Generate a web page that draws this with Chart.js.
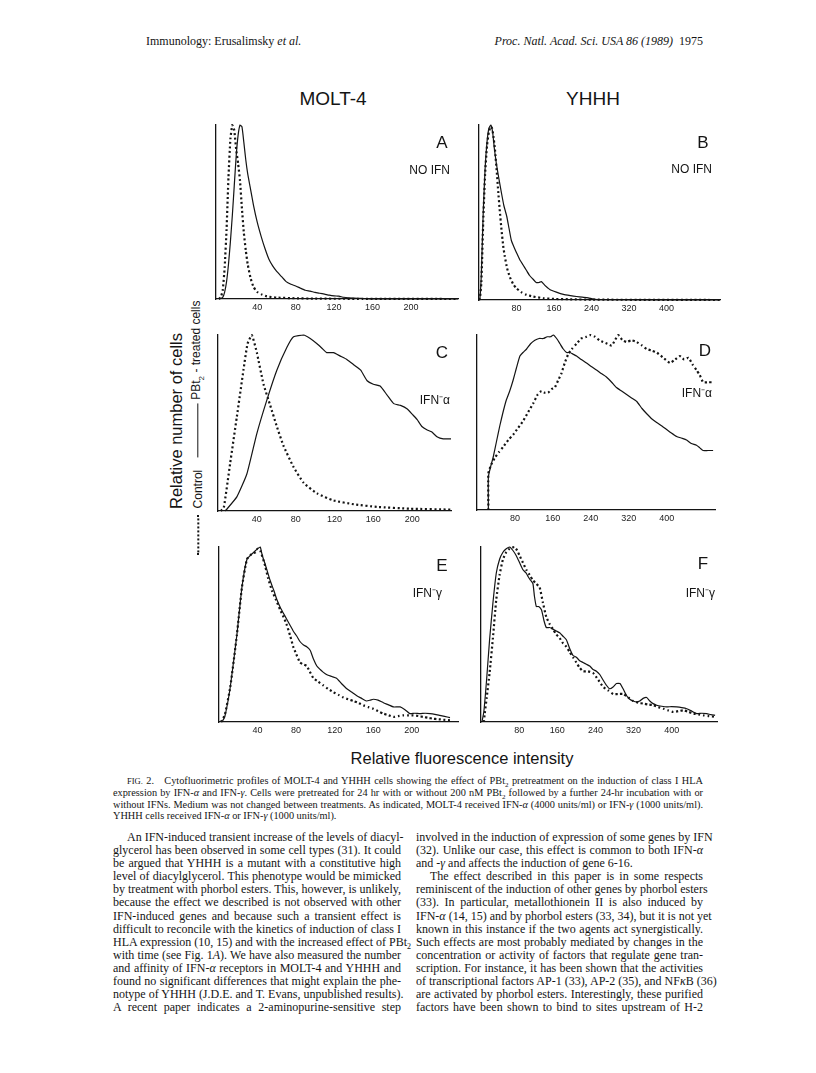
<!DOCTYPE html>
<html>
<head>
<meta charset="utf-8">
<script src="https://cdn.jsdelivr.net/npm/chart.js@4.4.1/dist/chart.umd.min.js"></script>
<style>
    body {
        margin: 0;
        width: 816px;
        height: 1073px;
        background: #fff;
        position: relative;
        overflow: hidden;
        color: #141414;
        font-family: "Liberation Serif", "Times New Roman", serif;
    }
    canvas { position: absolute; }
    .t { position: absolute; white-space: nowrap; line-height: 1; }
    .mid { transform: translate(-50%, -50%); }
    .lft { transform: translateY(-50%); }
    .rgt { transform: translate(-100%, -50%); }
    .sans { font-family: "Liberation Sans", Arial, sans-serif; }
    .title { font-size: 19px; }
    .letter { font-size: 17px; }
    .note { font-size: 12px; }
    .axis-label { font-size: 16.5px; }
    .rot { transform: translate(-50%, -50%) rotate(-90deg); }
    .legend { font-size: 12px; display: flex; align-items: center; }
    .legend .dots { display: inline-block; width: 40px; border-top: 2px dotted #141414; margin-right: 7px; }
    .legend .solid { display: inline-block; width: 54px; border-top: 1px solid #141414; margin: 0 4px 0 12px; }
    .legend sub { font-size: 8px; }
    .header { font-size: 12px; }
    .caption { position: absolute; left: 113px; width: 590px; font-size: 10.3px; line-height: 11.8px; top: 775px; }
    .col { position: absolute; top: 831px; font-size: 12px; line-height: 13.1px; }
    .line { white-space: nowrap; text-align: justify; text-align-last: justify; height: 13.1px; }
    .caption .line { height: 11.8px; }
    .line.end { text-align-last: left; }
    .ind { text-indent: 14px; }
    .sc { font-size: 8.5px; }
</style>
</head>
<body>

<div class="t header lft" style="left:146px; top:41px;">Immunology: Erusalimsky <i>et al.</i></div>
<div class="t header rgt" style="left:673px; top:41px;"><i>Proc. Natl. Acad. Sci. USA 86 (1989)</i></div>
<div class="t header rgt" style="left:703px; top:41px;">1975</div>

<div class="t sans title mid" style="left:333px; top:98px;">MOLT-4</div>
<div class="t sans title mid" style="left:593px; top:98px;">YHHH</div>

<canvas id="cA"></canvas>
<canvas id="cB"></canvas>
<canvas id="cC"></canvas>
<canvas id="cD"></canvas>
<canvas id="cE"></canvas>
<canvas id="cF"></canvas>

<div class="t sans letter mid" style="left:442px; top:142px;">A</div>
<div class="t sans note rgt" style="left:450px; top:170px;">NO IFN</div>
<div class="t sans letter mid" style="left:703px; top:142px;">B</div>
<div class="t sans note rgt" style="left:712px; top:169px;">NO IFN</div>
<div class="t sans letter mid" style="left:442px; top:352px;">C</div>
<div class="t sans note rgt" style="left:450px; top:400px;">IFN⁻α</div>
<div class="t sans letter mid" style="left:705px; top:350px;">D</div>
<div class="t sans note rgt" style="left:712px; top:393px;">IFN⁻α</div>
<div class="t sans letter mid" style="left:442px; top:565px;">E</div>
<div class="t sans note rgt" style="left:442px; top:593px;">IFN⁻γ</div>
<div class="t sans letter mid" style="left:703px; top:563px;">F</div>
<div class="t sans note rgt" style="left:715px; top:593px;">IFN⁻γ</div>

<div class="t sans axis-label rot" style="left:176px; top:421px;">Relative number of cells</div>
<div class="t sans legend rot" style="left:198px; top:428px;">
    <span class="dots"></span><span>Control</span><span class="solid"></span><span>PBt<sub>2</sub> - treated cells</span>
</div>
<div class="t sans axis-label mid" style="left:462px; top:758px;">Relative fluorescence intensity</div>

<div class="caption">
    <div class="line ind"><span class="sc">FIG.</span> 2.&nbsp;&nbsp; Cytofluorimetric profiles of MOLT-4 and YHHH cells showing the effect of PBt<sub style="font-size:7px">2</sub> pretreatment on the induction of class I HLA</div>
    <div class="line">expression by IFN-<i>α</i> and IFN-<i>γ</i>. Cells were pretreated for 24 hr with or without 200 nM PBt<sub style="font-size:7px">2</sub> followed by a further 24-hr incubation with or</div>
    <div class="line">without IFNs. Medium was not changed between treatments. As indicated, MOLT-4 received IFN-<i>α</i> (4000 units/ml) or IFN-<i>γ</i> (1000 units/ml).</div>
    <div class="line end">YHHH cells received IFN-<i>α</i> or IFN-<i>γ</i> (1000 units/ml).</div>
</div>

<div class="col" style="left:113px; width:288px;">
    <div class="line ind">An IFN-induced transient increase of the levels of diacyl-</div>
    <div class="line">glycerol has been observed in some cell types (31). It could</div>
    <div class="line">be argued that YHHH is a mutant with a constitutive high</div>
    <div class="line">level of diacylglycerol. This phenotype would be mimicked</div>
    <div class="line">by treatment with phorbol esters. This, however, is unlikely,</div>
    <div class="line">because the effect we described is not observed with other</div>
    <div class="line">IFN-induced genes and because such a transient effect is</div>
    <div class="line">difficult to reconcile with the kinetics of induction of class I</div>
    <div class="line">HLA expression (10, 15) and with the increased effect of PBt<sub style="font-size:8px">2</sub></div>
    <div class="line">with time (see Fig. 1<i>A</i>). We have also measured the number</div>
    <div class="line">and affinity of IFN-<i>α</i> receptors in MOLT-4 and YHHH and</div>
    <div class="line">found no significant differences that might explain the phe-</div>
    <div class="line">notype of YHHH (J.D.E. and T. Evans, unpublished results).</div>
    <div class="line">A recent paper indicates a 2-aminopurine-sensitive step</div>
</div>

<div class="col" style="left:416px; width:287px;">
    <div class="line">involved in the induction of expression of some genes by IFN</div>
    <div class="line">(32). Unlike our case, this effect is common to both IFN-<i>α</i></div>
    <div class="line end">and -<i>γ</i> and affects the induction of gene 6-16.</div>
    <div class="line ind">The effect described in this paper is in some respects</div>
    <div class="line">reminiscent of the induction of other genes by phorbol esters</div>
    <div class="line">(33). In particular, metallothionein II is also induced by</div>
    <div class="line">IFN-<i>α</i> (14, 15) and by phorbol esters (33, 34), but it is not yet</div>
    <div class="line">known in this instance if the two agents act synergistically.</div>
    <div class="line">Such effects are most probably mediated by changes in the</div>
    <div class="line">concentration or activity of factors that regulate gene tran-</div>
    <div class="line">scription. For instance, it has been shown that the activities</div>
    <div class="line">of transcriptional factors AP-1 (33), AP-2 (35), and NF<i>κ</i>B (36)</div>
    <div class="line">are activated by phorbol esters. Interestingly, these purified</div>
    <div class="line">factors have been shown to bind to sites upstream of H-2</div>
</div>

<script>
// tick labels on the fluorescence axis
const moltTicks = [40, 80, 120, 160, 200];
const yhhhTicks = [80, 160, 240, 320, 400];

// profiles as [fluorescence, relative cell number]
// A: MOLT-4, no IFN
const ctrlA = [[0,0],[2,0.01],[4,0.05],[6,0.18],[8,0.4],[10,0.7],[12,0.92],[14,1.0],[16,0.97],[18,0.86],[20,0.78],[22,0.68],[24,0.52],[26,0.38],[28,0.28],[30,0.2],[33,0.12],[36,0.07],[40,0.04],[45,0.025],[50,0.015],[60,0.008],[80,0.004],[100,0.002],[150,0.001],[249,0]];
const pbtA = [[0,0],[4,0.01],[6,0.04],[8,0.1],[10,0.2],[12,0.33],[14,0.48],[16,0.65],[18,0.82],[20,0.94],[22,1.0],[24,0.99],[26,0.9],[28,0.8],[30,0.72],[33,0.63],[36,0.54],[40,0.44],[44,0.36],[48,0.29],[52,0.23],[56,0.19],[60,0.16],[65,0.13],[70,0.1],[75,0.085],[80,0.075],[85,0.062],[90,0.05],[95,0.045],[100,0.038],[105,0.033],[110,0.028],[115,0.022],[120,0.018],[125,0.016],[130,0.01],[140,0.005],[150,0.003],[160,0.001],[249,0]];

// B: YHHH, no IFN
const ctrlB = [[0,0],[2,0.01],[5,0.1],[9,0.45],[13,0.72],[17,0.88],[21,0.96],[25,0.99],[28,0.98],[31,0.93],[34,0.86],[38,0.73],[41,0.62],[44,0.52],[48,0.4],[52,0.3],[55,0.25],[60,0.18],[66,0.13],[73,0.09],[80,0.067],[90,0.045],[101,0.03],[115,0.02],[137,0.01],[160,0.006],[194,0.004],[240,0.002],[514,0]];
const pbtB = [[0,0],[2,0.01],[5,0.15],[9,0.5],[13,0.75],[17,0.9],[21,0.98],[25,1.0],[29,0.96],[33,0.86],[37,0.78],[42,0.7],[48,0.61],[53,0.54],[59,0.48],[64,0.41],[69,0.34],[75,0.3],[80,0.27],[87,0.23],[94,0.2],[101,0.17],[108,0.14],[115,0.12],[122,0.1],[128,0.1],[133,0.105],[140,0.085],[151,0.06],[165,0.045],[180,0.032],[195,0.025],[208,0.02],[220,0.016],[233,0.012],[244,0.005],[260,0.002],[514,0]];

// C: MOLT-4, IFN-alpha
const ctrlC = [[3,0],[6,0.02],[12.5,0.27],[19.4,0.535],[26.2,0.8],[30.4,0.95],[34.8,1.0],[40,0.9],[46.9,0.72],[53.8,0.6],[60.6,0.48],[67.5,0.37],[77.8,0.25],[88.2,0.16],[102,0.1],[119,0.06],[140,0.038],[164,0.023],[198,0.013],[240,0.008]];
const pbtC = [[7,0],[9,0.01],[19.4,0.08],[29.7,0.21],[40,0.44],[50.3,0.63],[60.6,0.8],[71,0.93],[77.8,0.99],[88.2,1.0],[95,0.98],[102,0.95],[108,0.92],[112,0.9],[119,0.9],[126,0.88],[133,0.86],[140,0.83],[147,0.8],[153.6,0.74],[160,0.72],[167,0.71],[174,0.66],[181,0.61],[188,0.6],[195,0.58],[200,0.55],[205,0.52],[210,0.48],[215.5,0.46],[220,0.45],[226,0.42],[232,0.41],[240,0.41]];

// D: YHHH, IFN-alpha
const ctrlD = [[24,0],[24,0.21],[30,0.26],[38,0.3],[46,0.33],[55,0.36],[66,0.4],[76,0.43],[87,0.47],[97.6,0.51],[108,0.56],[118.7,0.61],[128,0.66],[136,0.68],[143,0.67],[150,0.67],[157,0.69],[164,0.7],[171,0.74],[178,0.78],[185,0.84],[192.5,0.89],[200,0.92],[210,0.95],[220,0.98],[231,0.99],[240,1.0],[249,0.99],[258,0.97],[266,0.96],[275,0.95],[284,0.94],[291,0.97],[298,1.0],[307,0.97],[315.6,0.96],[326,0.97],[337,0.96],[348,0.94],[358,0.92],[369,0.91],[379,0.9],[393,0.87],[407,0.84],[418,0.86],[428,0.88],[437,0.86],[446,0.87],[455,0.83],[463,0.8],[470,0.77],[477,0.73],[487,0.73],[498,0.73]];
const pbtD = [[24,0],[24,0.19],[29,0.25],[34,0.3],[41,0.39],[48,0.48],[55,0.56],[62,0.63],[69,0.68],[76,0.74],[83,0.81],[90.5,0.88],[97,0.9],[104.6,0.92],[113,0.95],[122,0.97],[131,0.98],[140,0.98],[148,0.99],[155,0.99],[161,1.0],[168,0.98],[175,0.95],[182,0.92],[189,0.9],[196,0.9],[203,0.89],[210,0.88],[220,0.86],[231,0.84],[241,0.82],[252,0.8],[262,0.78],[273,0.76],[284,0.73],[294,0.7],[305,0.68],[315.6,0.66],[326,0.64],[337,0.62],[348,0.58],[358,0.55],[369,0.52],[379,0.5],[390,0.48],[400,0.46],[410,0.44],[421,0.42],[432,0.41],[442,0.4],[452,0.38],[463,0.37],[470,0.355],[477,0.34],[487,0.34],[498,0.34]];

// E: MOLT-4, IFN-gamma
const ctrlE = [[2,0],[6,0.04],[11.7,0.2],[18.6,0.5],[23.8,0.77],[29,0.93],[34,0.96],[38,0.97],[40,0.99],[42.8,0.98],[48,0.89],[51,0.82],[55,0.75],[59,0.7],[63.5,0.64],[67,0.6],[70,0.56],[74,0.49],[77,0.43],[80,0.39],[84,0.34],[87,0.33],[91,0.32],[94,0.29],[98,0.25],[103,0.23],[108,0.21],[113,0.19],[118.8,0.17],[124,0.155],[129,0.14],[134,0.13],[139.6,0.12],[145,0.108],[150,0.095],[155,0.085],[160,0.076],[165,0.062],[170.6,0.048],[176,0.038],[181,0.029],[186,0.034],[191,0.038],[196,0.038],[201.7,0.038],[207,0.034],[212,0.029],[217,0.024],[222,0.019],[227,0.016],[232.8,0.013],[239.7,0.01]];
const pbtE = [[3,0],[6,0.03],[11.7,0.2],[18.6,0.5],[23.8,0.77],[29,0.93],[34,0.96],[38,0.98],[40,0.99],[42.8,1.0],[45,0.95],[48,0.9],[53,0.81],[57,0.75],[60,0.7],[64,0.65],[67,0.62],[70,0.59],[74,0.55],[77,0.52],[80.8,0.49],[84,0.46],[87.7,0.44],[91,0.43],[94.6,0.41],[98,0.36],[101.5,0.32],[105,0.3],[108,0.285],[112,0.27],[117,0.26],[122,0.25],[127,0.22],[132.6,0.19],[138,0.17],[143,0.15],[148,0.135],[153,0.12],[157,0.125],[160,0.13],[165,0.125],[170.6,0.11],[176,0.098],[181,0.086],[188,0.086],[193,0.07],[198,0.048],[203,0.05],[208.6,0.048],[214,0.05],[219,0.048],[224,0.044],[229,0.038],[234,0.032],[239.7,0.025]];

// F: YHHH, IFN-gamma
const ctrlF = [[6,0],[7.9,0.05],[12,0.14],[18,0.28],[25,0.48],[32,0.7],[39,0.84],[46,0.93],[53,0.97],[60,0.99],[70,1.0],[76,0.98],[81,0.95],[88,0.91],[95,0.87],[102,0.84],[109,0.81],[116,0.79],[123,0.77],[130,0.68],[137,0.6],[144,0.56],[151,0.53],[158,0.5],[165,0.48],[172,0.45],[179,0.43],[186,0.4],[193,0.37],[200,0.34],[207,0.31],[214,0.29],[224,0.29],[235,0.28],[246,0.24],[256.5,0.2],[267,0.18],[277.5,0.16],[288,0.16],[298.5,0.16],[309,0.14],[319.5,0.12],[330,0.11],[340.5,0.105],[351,0.1],[361.5,0.096],[372,0.085],[382.5,0.076],[393,0.066],[403.5,0.057],[414,0.062],[424.5,0.067],[435,0.058],[445.5,0.048],[456,0.044],[466.5,0.038],[477,0.034],[491,0.029]];
const pbtF = [[2,0],[6,0.06],[12,0.25],[18,0.47],[25,0.68],[32,0.85],[39,0.93],[46,0.97],[53,0.99],[60,1.0],[67,0.98],[74,0.95],[81,0.91],[88,0.87],[95,0.85],[99,0.83],[104,0.81],[109,0.79],[112,0.72],[116,0.66],[121,0.66],[127,0.64],[132,0.58],[137,0.54],[144,0.54],[151,0.53],[158,0.52],[165,0.51],[172,0.49],[179,0.47],[186,0.42],[193,0.38],[200,0.37],[207,0.35],[214,0.34],[221,0.33],[228,0.32],[235,0.3],[242,0.29],[249.5,0.27],[256,0.24],[263,0.21],[270,0.19],[277,0.2],[284,0.22],[291.5,0.22],[298,0.19],[305.5,0.15],[312,0.13],[319,0.12],[326.5,0.115],[333,0.12],[340,0.135],[347.5,0.14],[354,0.12],[361,0.105],[368.5,0.096],[379,0.09],[389.5,0.086],[400,0.088],[410.5,0.086],[421,0.082],[431.5,0.076],[442,0.062],[452.5,0.048],[463,0.05],[473.5,0.048],[482,0.042],[491,0.038]];

// plot boxes on the page (pixel edges of each panel's axes)
const panels = [
    { id: 'cA', left: 216, right: 458, top: 125, bottom: 299, xMin: -3, xMax: 249, ticks: moltTicks, solid: pbtA, dotted: ctrlA },
    { id: 'cB', left: 479, right: 720, top: 125, bottom: 300, xMin: 0, xMax: 514, ticks: yhhhTicks, solid: pbtB, dotted: ctrlB },
    { id: 'cC', left: 218, right: 451, top: 335, bottom: 511, xMin: 0, xMax: 240, ticks: moltTicks, solid: pbtC, dotted: ctrlC },
    { id: 'cD', left: 477, right: 715, top: 335, bottom: 510, xMin: 0, xMax: 502, ticks: yhhhTicks, solid: pbtD, dotted: ctrlD },
    { id: 'cE', left: 219, right: 458, top: 547, bottom: 722, xMin: 0, xMax: 248, ticks: moltTicks, solid: pbtE, dotted: ctrlE },
    { id: 'cF', left: 481, right: 717, top: 547, bottom: 722, xMin: 0, xMax: 495, ticks: yhhhTicks, solid: pbtF, dotted: ctrlF }
];

const ink = '#141414';
const pad = 4;
const axisHeight = 18;

function toPoints(pairs) {
    return pairs.map(p => ({ x: p[0], y: p[1] }));
}

panels.forEach(p => {
    const canvas = document.getElementById(p.id);
    canvas.width = p.right - p.left + pad * 2;
    canvas.height = p.bottom - p.top + pad + axisHeight;
    canvas.style.left = (p.left - pad) + 'px';
    canvas.style.top = (p.top - pad) + 'px';

    new Chart(canvas, {
        type: 'line',
        data: {
            datasets: [
                {
                    label: 'PBt2 - treated cells',
                    data: toPoints(p.solid),
                    borderColor: ink,
                    borderWidth: 1.2,
                    pointRadius: 0,
                    tension: 0.15,
                    clip: 4
                },
                {
                    label: 'Control',
                    data: toPoints(p.dotted),
                    borderColor: ink,
                    borderWidth: 2.2,
                    borderDash: [2, 2.6],
                    pointRadius: 0,
                    tension: 0.15,
                    clip: 4
                }
            ]
        },
        options: {
            responsive: false,
            animation: false,
            devicePixelRatio: 1,
            layout: { padding: { left: pad, right: pad, top: pad, bottom: 0 } },
            plugins: {
                legend: { display: false },
                tooltip: { enabled: false }
            },
            scales: {
                x: {
                    type: 'linear',
                    min: p.xMin,
                    max: p.xMax,
                    border: { display: true, color: ink, width: 1.3 },
                    grid: { display: false, drawTicks: false },
                    ticks: {
                        padding: 3,
                        color: '#222',
                        autoSkip: false,
                        maxRotation: 0,
                        font: { family: 'Liberation Sans', size: 9 }
                    },
                    afterBuildTicks: scale => {
                        scale.ticks = p.ticks.map(v => ({ value: v }));
                    },
                    afterFit: scale => {
                        scale.height = axisHeight;
                    }
                },
                y: {
                    min: 0,
                    max: 1,
                    border: { display: true, color: ink, width: 1.3 },
                    grid: { display: false, drawTicks: false },
                    ticks: { display: false },
                    afterFit: scale => {
                        scale.width = 0;
                    }
                }
            }
        }
    });
});
</script>
</body>
</html>
